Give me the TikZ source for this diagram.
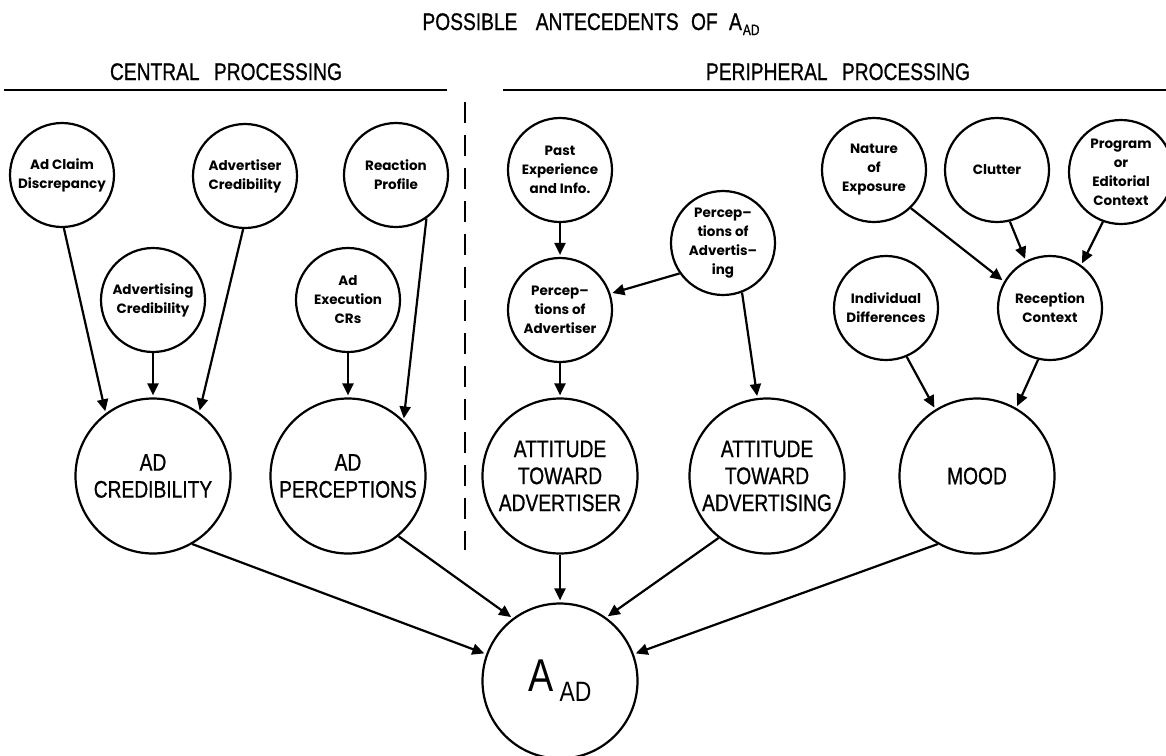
\documentclass[tikz,border=0pt]{standalone}
\usepackage{fontspec}
\usetikzlibrary{arrows.meta}
\newfontfamily\capsf[FakeStretch=0.8,FakeBold=0.8]{Liberation Sans}
\newfontfamily\thinsf[FakeStretch=0.82]{Liberation Sans}
\newfontfamily\smallf{Poppins}
\begin{document}
\begin{tikzpicture}[x=1pt,y=-1pt,
  smallc/.style={circle,draw,line width=2.2pt,minimum size=104pt,inner sep=0pt,align=center,
    font=\smallf\bfseries\fontsize{13.5}{19}\selectfont},
  bigc/.style={circle,draw,line width=2.2pt,minimum size=155pt,inner sep=0pt,align=center,
    font=\capsf\fontsize{24}{27}\selectfont},
  arr/.style={line width=2.2pt,-{Triangle[length=12pt,width=11pt]},shorten >=2pt},
  head/.style={font=\capsf\fontsize{24}{24}\selectfont,anchor=base,inner sep=0pt},
  rule/.style={line width=2.5pt}]
\useasboundingbox (0,0) rectangle (1166,755);

% headings
\node[head] (title) at (591,30) {POSSIBLE\hspace{13pt} ANTECEDENTS\hspace{7pt} OF\hspace{6pt} A\hspace{1pt}\raisebox{-5pt}{\fontsize{15}{15}\selectfont AD}};
\node[head] (central) at (226,80) {CENTRAL\hspace{9pt} PROCESSING};
\node[head] (periph) at (838,80) {PERIPHERAL\hspace{9pt} PROCESSING};
\draw[rule] (4,90) -- (447,90);
\draw[rule] (503,90) -- (1166,90);
\draw[line width=2.6pt,dash pattern=on 21pt off 12pt] (465,102) -- (465,550);

% small circles
\node[smallc] (acd) at (62,175) {Ad Claim\\Discrepancy};
\node[smallc] (advcred) at (245,176) {Advertiser\\Credibility};
\node[smallc] (react) at (396,175) {Reaction\\Profile};
\node[smallc] (adgcred) at (153,300) {Advertising\\Credibility};
\node[smallc] (exec) at (348,300) {Ad\\Execution\\CRs};
\node[smallc] (past) at (560,170) {Past\\Experience\\and Info.};
\node[smallc] (poadg) at (723,243) {Percep\textendash\\tions of\\Advertis\textendash\\ing};
\node[smallc] (poadr) at (560,310) {Percep\textendash\\tions of\\Advertiser};
\node[smallc] (nature) at (874,170) {Nature\\of\\Exposure};
\node[smallc] (clutter) at (997,170) {Clutter};
\node[smallc] (prog) at (1121,172) {Program\\or\\Editorial\\Context};
\node[smallc] (indiv) at (886,308) {Individual\\Differences};
\node[smallc] (recep) at (1050,308) {Reception\\Context};

% big circles
\node[bigc] (adcred) at (153,476) {AD\\CREDIBILITY};
\node[bigc] (adperc) at (348,476) {AD\\PERCEPTIONS};
\node[bigc] (attadr) at (560,476) {ATTITUDE\\TOWARD\\ADVERTISER};
\node[bigc] (attadg) at (767,476) {ATTITUDE\\TOWARD\\ADVERTISING};
\node[bigc] (mood) at (977,476) {MOOD};
\node[bigc] (aad) at (560,681) {{\thinsf\fontsize{46}{46}\selectfont A}\hspace{6pt}\raisebox{-10pt}{\thinsf\fontsize{28}{28}\selectfont AD}};

% arrows
\draw[arr] (acd.-88) -- (adcred.127);
\draw[arr] (advcred.-92) -- (adcred.54);
\draw[arr] (adgcred.south) -- (adcred.north);
\draw[arr] (exec.south) -- (adperc.north);
\draw[arr] (react.-55) -- (adperc.45);
\draw[arr] (past.south) -- (poadr.north);
\draw[arr] (poadg.215) -- (poadr.18);
\draw[arr] (poadg.-69) -- (attadg.97);
\draw[arr] (poadr.south) -- (attadr.north);
\draw[arr] (nature.-46) -- (recep.150);
\draw[arr] (clutter.-76) -- (recep.117);
\draw[arr] (prog.-110) -- (recep.54);
\draw[arr] (indiv.-67) -- (mood.122);
\draw[arr] (recep.-103) -- (mood.60);
\draw[arr] (adcred.-60) -- (aad.160);
\draw[arr] (adperc.-50) -- (aad.127);
\draw[arr] (attadr.south) -- (aad.north);
\draw[arr] (attadg.-128) -- (aad.54);
\draw[arr] (mood.-120) -- (aad.20);
\end{tikzpicture}
\end{document}
